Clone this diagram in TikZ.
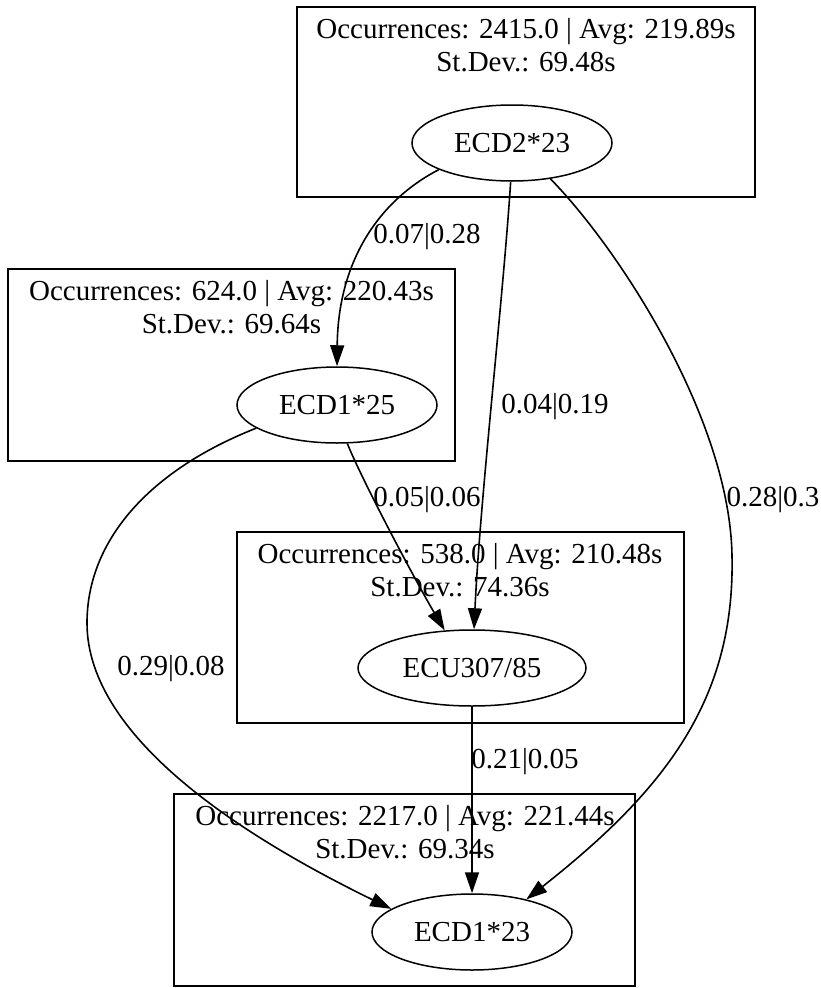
\documentclass[tikz,border=0pt]{standalone}
\usepackage{fontspec}
\setmainfont{Liberation Serif}
\usetikzlibrary{shapes.geometric,arrows.meta}
\begin{document}
\begin{tikzpicture}[x=1pt,y=-1pt,
  every node/.style={font=\fontsize{29}{33}\selectfont},
  cluster/.style={draw, line width=1.8pt, rectangle, inner sep=0pt},
  clabel/.style={align=center, anchor=base, inner sep=0pt},
  state/.style={draw, ellipse, line width=1.5pt, inner sep=0pt, minimum height=76pt},
  flow/.style={line width=1.6pt, -{Triangle[length=21pt,width=14pt]}},
  elabel/.style={anchor=base, inner sep=0pt}]
\useasboundingbox (0,0) rectangle (820,988);

% clusters
\node[cluster, minimum width=458pt, minimum height=190pt] (clA) at (526,102) {};
\node[cluster, minimum width=447pt, minimum height=192pt] (clB) at (231.5,365) {};
\node[cluster, minimum width=447pt, minimum height=191pt] (clC) at (460.5,627.5) {};
\node[cluster, minimum width=461pt, minimum height=192pt] (clD) at (404.5,890) {};

% cluster labels (anchor base = baseline of the last line)
\node[clabel] (labA) at (526,71) {Occurrences: 2415.0 | Avg: 219.89s\\St.Dev.: 69.48s};
\node[clabel] (labB) at (231.5,333) {Occurrences: 624.0 | Avg: 220.43s\\St.Dev.: 69.64s};
\node[clabel] (labC) at (460,596) {Occurrences: 538.0 | Avg: 210.48s\\St.Dev.: 74.36s};
\node[clabel] (labD) at (405,858) {Occurrences: 2217.0 | Avg: 221.44s\\St.Dev.: 69.34s};

% states
\node[state, minimum width=200pt] (ecdtwo) at (512,143) {ECD2*23};
\node[state, minimum width=200pt] (ecdonefive) at (337,405) {ECD1*25};
\node[state, minimum width=228pt] (ecu) at (472,668) {ECU307/85};
\node[state, minimum width=200pt] (ecdonethree) at (472,932) {ECD1*23};

% connectors
\draw[flow] (ecdtwo.200) .. controls (380,200) and (338,260) .. (ecdonefive.north);
\draw[flow] (ecdtwo.268) .. controls (503,300) and (480,500) .. (ecu.87);
\draw[flow] (ecdtwo.-43) .. controls (620,250) and (730,420) .. (732,556)
   .. controls (735,700) and (665,790) .. (ecdonethree.31);
\draw[flow] (ecdonefive.-75) .. controls (362,480) and (415,580) .. (ecu.126);
\draw[flow] (ecdonefive.196) .. controls (150,470) and (87,540) .. (87,623)
   .. controls (87,740) and (250,840) .. (ecdonethree.164);
\draw[flow] (ecu.south) -- (ecdonethree.north);

% connector labels
\node[elabel] (l1) at (427,243) {0.07|0.28};
\node[elabel] (l2) at (555,413) {0.04|0.19};
\node[elabel] (l3) at (773,506) {0.28|0.3};
\node[elabel] (l4) at (427,506) {0.05|0.06};
\node[elabel] (l5) at (171,675) {0.29|0.08};
\node[elabel] (l6) at (525,768) {0.21|0.05};
\end{tikzpicture}
\end{document}
